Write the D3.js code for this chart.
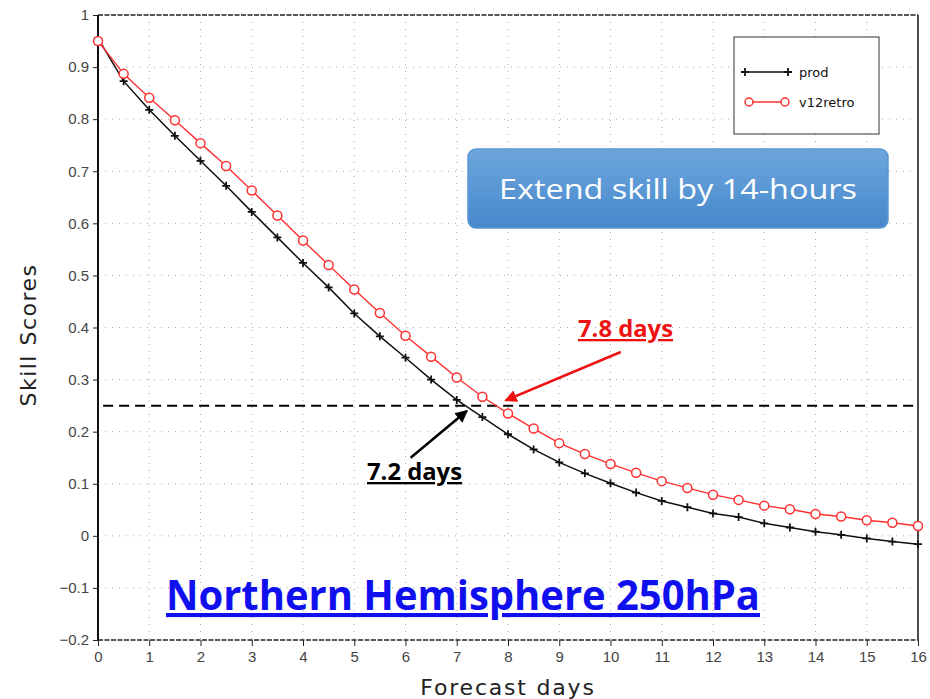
<!DOCTYPE html>
<html><head><meta charset="utf-8">
<script src="https://cdn.jsdelivr.net/npm/d3@7"></script>
<style>body{margin:0;background:#fff}svg{display:block}</style>
</head><body>
<svg id="c" width="930" height="699"></svg>
<script>
const days = d3.range(0, 16.01, 0.5);
const prod = [0.955,0.873,0.818,0.768,0.720,0.672,0.622,0.573,0.524,0.477,0.427,0.383,0.342,0.300,0.261,0.228,0.195,0.166,0.141,0.120,0.101,0.083,0.067,0.055,0.043,0.036,0.024,0.016,0.008,0.002,-0.005,-0.011,-0.016];
const retro = [0.950,0.887,0.841,0.798,0.754,0.710,0.663,0.615,0.567,0.520,0.473,0.428,0.384,0.344,0.304,0.267,0.235,0.206,0.178,0.157,0.138,0.121,0.105,0.092,0.079,0.069,0.058,0.051,0.042,0.037,0.030,0.025,0.019];
const seriesNames = ["prod","v12retro"];
const xTicks = d3.range(0, 17, 1);
const yTicks = [-0.2,-0.1,0,0.1,0.2,0.3,0.4,0.5,0.6,0.7,0.8,0.9,1];
const threshold = 0.25;
const prodDays = 7.2, retroDays = 7.8;

const svg = d3.select("#c");
const L = 98, R = 918, T = 15, B = 640;
const x = d3.scaleLinear().domain([0,16]).range([L,R]);
const y = d3.scaleLinear().domain([-0.2,1]).range([B,T]);

// grid
const g = svg.append("g");
g.selectAll(".vg").data(xTicks.slice(1,-1)).join("line")
  .attr("x1",d=>x(d)).attr("x2",d=>x(d)).attr("y1",T).attr("y2",B)
  .attr("stroke","#aaa").attr("stroke-width",1).attr("stroke-dasharray","1,6");
g.selectAll(".hg").data(yTicks.slice(1,-1)).join("line")
  .attr("x1",L).attr("x2",R).attr("y1",d=>y(d)).attr("y2",d=>y(d))
  .attr("stroke","#aaa").attr("stroke-width",1).attr("stroke-dasharray","1,6");

// axes
const fmt = d => d < 0 ? "\u2212" + Math.abs(d) : String(d);
const ya = svg.append("g").attr("transform",`translate(${L},0)`)
  .call(d3.axisLeft(y).tickValues(yTicks).tickSize(5).tickPadding(4).tickFormat(fmt));
const xa = svg.append("g").attr("transform",`translate(0,${B})`)
  .call(d3.axisBottom(x).tickValues(xTicks).tickSize(6).tickPadding(5).tickFormat(d=>d));
[ya,xa].forEach(a=>{
  a.select(".domain").remove();
  a.selectAll("line").attr("stroke","#222");
  a.selectAll("text").attr("fill","#444").attr("font-family","Liberation Sans, Arial, sans-serif").attr("font-size",15);
});

// frame
svg.append("line").attr("x1",L).attr("x2",L).attr("y1",T).attr("y2",B).attr("stroke","#111").attr("stroke-width",2);
svg.append("line").attr("x1",R).attr("x2",R).attr("y1",T).attr("y2",B).attr("stroke","#111").attr("stroke-width",1.5);
svg.append("line").attr("x1",L).attr("x2",R).attr("y1",T).attr("y2",T).attr("stroke","#222").attr("stroke-width",1.5).attr("stroke-dasharray","5,1.5");
svg.append("line").attr("x1",L).attr("x2",R).attr("y1",B).attr("y2",B).attr("stroke","#222").attr("stroke-width",1.5).attr("stroke-dasharray","5,1.5");

// axis titles
svg.append("text").attr("transform",`translate(36,335) rotate(-90)`)
  .attr("text-anchor","middle").attr("font-family","DejaVu Sans, sans-serif").attr("font-size",22)
  .attr("fill","#222").attr("letter-spacing",1.5).text("Skill  Scores");
svg.append("text").attr("x",508).attr("y",695).attr("text-anchor","middle")
  .attr("font-family","DejaVu Sans, sans-serif").attr("font-size",22).attr("fill","#222")
  .attr("letter-spacing",1.8).text("Forecast days");

// threshold
svg.append("line").attr("x1",x(0.1)).attr("x2",R).attr("y1",y(threshold)).attr("y2",y(threshold))
  .attr("stroke","#000").attr("stroke-width",2).attr("stroke-dasharray","10,6");

// series
const line = d3.line().x((d,i)=>x(days[i])).y(d=>y(d));
svg.append("path").datum(prod).attr("d",line).attr("fill","none").attr("stroke","#111").attr("stroke-width",1.5);
svg.append("path").datum(retro).attr("d",line).attr("fill","none").attr("stroke","#ff3030").attr("stroke-width",1.4);
const cross = (sel,s)=>sel.append("path").attr("d",`M${-s},0H${s}M0,${-s}V${s}`).attr("stroke","#111").attr("stroke-width",1.8);
svg.append("g").selectAll("g").data(prod).join("g")
  .attr("transform",(d,i)=>`translate(${x(days[i])},${y(d)})`)
  .each(function(){cross(d3.select(this),4);});
svg.append("g").selectAll("circle").data(retro).join("circle")
  .attr("cx",(d,i)=>x(days[i])).attr("cy",d=>y(d)).attr("r",4.5)
  .attr("fill","#fff").attr("stroke","#ff3030").attr("stroke-width",1.5);

// legend
const lg = svg.append("g");
lg.append("rect").attr("x",734).attr("y",37).attr("width",145).attr("height",97).attr("fill","#fff").attr("stroke","#333").attr("stroke-width",1);
lg.append("line").attr("x1",745).attr("x2",788).attr("y1",72).attr("y2",72).attr("stroke","#111").attr("stroke-width",1.5);
[745,788].forEach(px=>{const gg=lg.append("g").attr("transform",`translate(${px},72)`);cross(gg,4);});
lg.append("line").attr("x1",749).attr("x2",785).attr("y1",102).attr("y2",102).attr("stroke","#ff3030").attr("stroke-width",1.4);
[749,785].forEach(px=>lg.append("circle").attr("cx",px).attr("cy",102).attr("r",4).attr("fill","#fff").attr("stroke","#ff3030").attr("stroke-width",1.5));
lg.selectAll("text").data(seriesNames).join("text").attr("x",799).attr("y",(d,i)=>77+i*30)
  .attr("font-family","DejaVu Sans, sans-serif").attr("font-size",13).attr("fill","#111").text(d=>d);

// blue box
const defs = svg.append("defs");
const gr = defs.append("linearGradient").attr("id","bg").attr("x1",0).attr("x2",0).attr("y1",0).attr("y2",1);
gr.append("stop").attr("offset","0").attr("stop-color","#6da6dc");
gr.append("stop").attr("offset","1").attr("stop-color","#4688cc");
defs.append("marker").attr("id","arR").attr("viewBox","0 0 10 10").attr("refX",9).attr("refY",5)
  .attr("markerWidth",5).attr("markerHeight",5).attr("orient","auto").append("path").attr("d","M0,0L10,5L0,10z").attr("fill","#ee1111");
defs.append("marker").attr("id","arK").attr("viewBox","0 0 10 10").attr("refX",9).attr("refY",5)
  .attr("markerWidth",5).attr("markerHeight",5).attr("orient","auto").append("path").attr("d","M0,0L10,5L0,10z").attr("fill","#000");
svg.append("rect").attr("x",468).attr("y",149).attr("width",420).attr("height",79).attr("rx",8)
  .attr("fill","url(#bg)").attr("stroke","#5b97d3").attr("stroke-width",1.5);
svg.append("text").attr("x",678).attr("y",199).attr("text-anchor","middle")
  .attr("font-family","Open Sans, sans-serif").attr("font-size",28).attr("fill","#fff")
  .attr("textLength",358).attr("lengthAdjust","spacingAndGlyphs").text("Extend skill by 14-hours");

// annotations
svg.append("line").attr("x1",x(10.2)).attr("y1",y(0.353)).attr("x2",x(7.95)).attr("y2",y(0.26))
  .attr("stroke","#ee1111").attr("stroke-width",2.5).attr("marker-end","url(#arR)");
svg.append("line").attr("x1",x(6.1)).attr("y1",y(0.15)).attr("x2",x(7.2)).attr("y2",y(0.24))
  .attr("stroke","#000").attr("stroke-width",2.5).attr("marker-end","url(#arK)");
svg.append("text").attr("x",578).attr("y",337).attr("font-family","Open Sans, sans-serif").attr("font-weight","bold")
  .attr("font-size",23).attr("fill","#ee1111").attr("text-decoration","underline")
  .attr("textLength",95).attr("lengthAdjust","spacingAndGlyphs").text(retroDays + " days");
svg.append("text").attr("x",367).attr("y",480).attr("font-family","Open Sans, sans-serif").attr("font-weight","bold")
  .attr("font-size",23).attr("fill","#000").attr("text-decoration","underline")
  .attr("textLength",95).attr("lengthAdjust","spacingAndGlyphs").text(prodDays + " days");
svg.append("text").attr("x",166).attr("y",610).attr("font-family","Open Sans, sans-serif").attr("font-weight","bold")
  .attr("font-size",41).attr("fill","#1010ee").attr("text-decoration","underline")
  .attr("textLength",594).attr("lengthAdjust","spacingAndGlyphs").text("Northern Hemisphere 250hPa");
</script>
</body></html>
